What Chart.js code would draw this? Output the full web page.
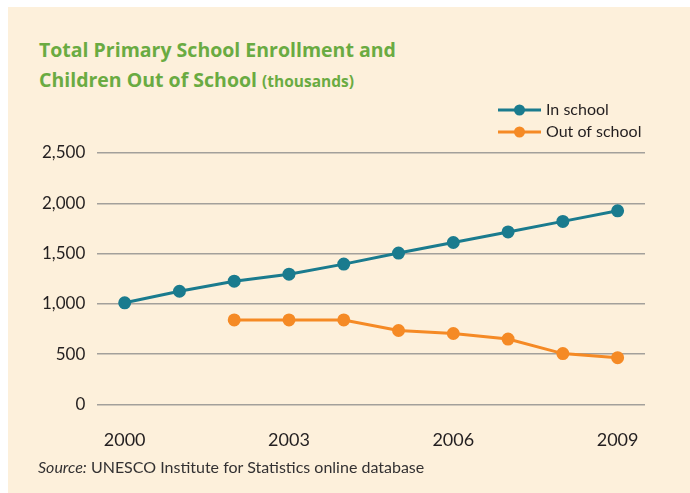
<!DOCTYPE html>
<html>
<head>
<meta charset="utf-8">
<script src="https://cdn.jsdelivr.net/npm/chart.js@4.4.0/dist/chart.umd.min.js"></script>
<style>
  html, body { margin: 0; padding: 0; background: #ffffff; }
  #panel {
    position: absolute; left: 8px; top: 7px; width: 682px; height: 486px;
    background: #fdf0db; font-family: Lato, "Noto Sans", sans-serif;
  }
  #title {
    position: absolute; left: 31px; top: 28px; margin: 0;
    font-family: "Open Sans", sans-serif;
    color: #6aab42; font-size: 19.5px; font-weight: bold; line-height: 30px;
  }
  #title span { font-size: 15.5px; }
  #source {
    position: absolute; left: 30px; top: 450px; color: #333132; font-size: 16px;
  }
  #chart { position: absolute; left: 0; top: 0; }
</style>
</head>
<body>
<div id="panel">
  <div id="title">Total Primary School Enrollment and<br>Children Out of School <span>(thousands)</span></div>
  <canvas id="chart" width="682" height="486"></canvas>
  <div id="source"><i>Source:</i> UNESCO Institute for Statistics online database</div>
</div>
<script>
const years = ["2000", "2001", "2002", "2003", "2004", "2005", "2006", "2007", "2008", "2009"];
const inSchool = [1010, 1125, 1225, 1295, 1395, 1505, 1610, 1715, 1820, 1925];
const outOfSchool = [null, null, 840, 840, 840, 735, 705, 650, 505, 465];
const shownYears = ["2000", "2003", "2006", "2009"];

const textColor = "#231f20";

// legend: line with a dot, drawn at top right
const lineLegend = {
    id: "lineLegend",
    afterDraw(chart) {
        const ctx = chart.ctx;
        const x0 = 490, x1 = 533;
        chart.data.datasets.forEach((ds, i) => {
            const y = 103 + i * 22;
            ctx.save();
            ctx.strokeStyle = ds.borderColor;
            ctx.lineWidth = 3;
            ctx.beginPath();
            ctx.moveTo(x0, y);
            ctx.lineTo(x1, y);
            ctx.stroke();
            ctx.fillStyle = ds.backgroundColor;
            ctx.beginPath();
            ctx.arc((x0 + x1) / 2, y, 5.5, 0, Math.PI * 2);
            ctx.fill();
            ctx.fillStyle = textColor;
            ctx.font = "16px Lato, 'Noto Sans', sans-serif";
            ctx.textBaseline = "middle";
            ctx.fillText(ds.label, x1 + 5, y);
            ctx.restore();
        });
    }
};

new Chart(document.getElementById("chart"), {
    type: "line",
    data: {
        labels: years,
        datasets: [{
            label: "In school",
            data: inSchool,
            borderColor: "#1a7b8e",
            backgroundColor: "#1a7b8e",
            borderWidth: 3,
            pointRadius: 5,
            pointHoverRadius: 5
        }, {
            label: "Out of school",
            data: outOfSchool,
            borderColor: "#f58a25",
            backgroundColor: "#f58a25",
            borderWidth: 3,
            pointRadius: 5,
            pointHoverRadius: 5
        }]
    },
    options: {
        responsive: false,
        animation: false,
        layout: { padding: { left: 22, right: 45, top: 146, bottom: 25 } },
        plugins: {
            legend: { display: false },
            tooltip: { enabled: false }
        },
        scales: {
            x: {
                offset: true,
                grid: { display: false },
                border: { display: false },
                ticks: {
                    color: textColor,
                    font: { family: "Lato, 'Noto Sans', sans-serif", size: 18 },
                    padding: 17,
                    autoSkip: false,
                    maxRotation: 0,
                    callback: (v, i) => shownYears.includes(years[i]) ? years[i] : ""
                }
            },
            y: {
                min: 0,
                max: 2500,
                ticks: {
                    stepSize: 500,
                    color: textColor,
                    font: { family: "Lato, 'Noto Sans', sans-serif", size: 17 },
                    padding: 12,
                    callback: v => v.toLocaleString("en-US")
                },
                grid: { color: "#a3a09b", lineWidth: 1.5, drawTicks: false },
                border: { display: false }
            }
        }
    },
    plugins: [lineLegend]
});
</script>
</body>
</html>
